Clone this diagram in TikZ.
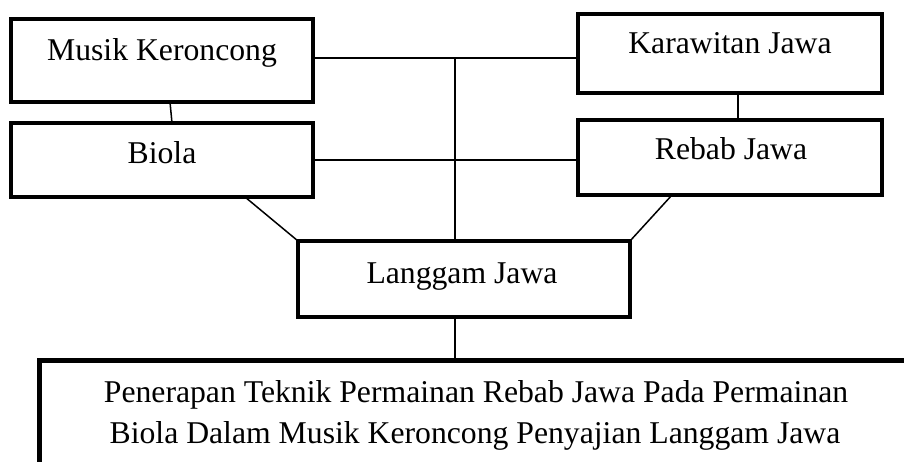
\documentclass[tikz,border=0pt]{standalone}
\usepackage{fontspec}
\setmainfont{Liberation Serif}
\begin{document}
\begin{tikzpicture}[x=1pt,y=-1pt,
  box/.style={draw=black,line width=4.5pt,rectangle,inner sep=0pt,outer sep=0pt,fill=white},
  conn/.style={draw=black,line width=1.5pt},
  lbl/.style={anchor=base,inner sep=0pt,font=\fontsize{31.7}{38}\selectfont}]
\useasboundingbox (0,0) rectangle (904,462);
\clip (0,0) rectangle (904,462);
\coordinate (j1) at (455,58);
% boxes
\node[box,minimum width=302pt,minimum height=83pt] (mk) at (162,60.5) {};
\node[box,minimum width=302pt,minimum height=74pt] (bi) at (162,160) {};
\node[box,minimum width=304pt,minimum height=79pt] (kw) at (730,53.5) {};
\node[box,minimum width=304pt,minimum height=75pt] (rb) at (730,157.5) {};
\node[box,minimum width=332pt,minimum height=76pt] (lg) at (464,279) {};
\node[box,anchor=north west,minimum width=1000pt,minimum height=200pt] (pb) at (39.5,360.5) {};
% connectors
\draw[conn] ([xshift=8pt]mk.south) -- ([xshift=10pt]bi.north);
\draw[conn] (mk.east |- j1) -- (kw.west |- j1);
\draw[conn] (j1) -- (lg.north -| j1);
\draw[conn] (bi.east) -- (rb.west |- bi.east);
\draw[conn] ([xshift=83pt]bi.south) -- (lg.north west);
\draw[conn] ([xshift=-58pt]rb.south) -- (lg.north east);
\draw[conn] ([xshift=8pt]kw.south) -- ([xshift=8pt]rb.north);
\draw[conn] (lg.south -| j1) -- (pb.north -| j1);
% labels
\node[lbl] (tmk) at (162,61) {Musik Keroncong};
\node[lbl] (tbi) at (162,164) {Biola};
\node[lbl] (tkw) at (730,54) {Karawitan Jawa};
\node[lbl] (trb) at (731,160) {Rebab Jawa};
\node[lbl] (tlg) at (462,283) {Langgam Jawa};
\node[lbl] (tpb1) at (476,402) {Penerapan Teknik Permainan Rebab Jawa Pada Permainan};
\node[lbl] (tpb2) at (475,443) {Biola Dalam Musik Keroncong Penyajian Langgam Jawa};
\end{tikzpicture}
\end{document}
